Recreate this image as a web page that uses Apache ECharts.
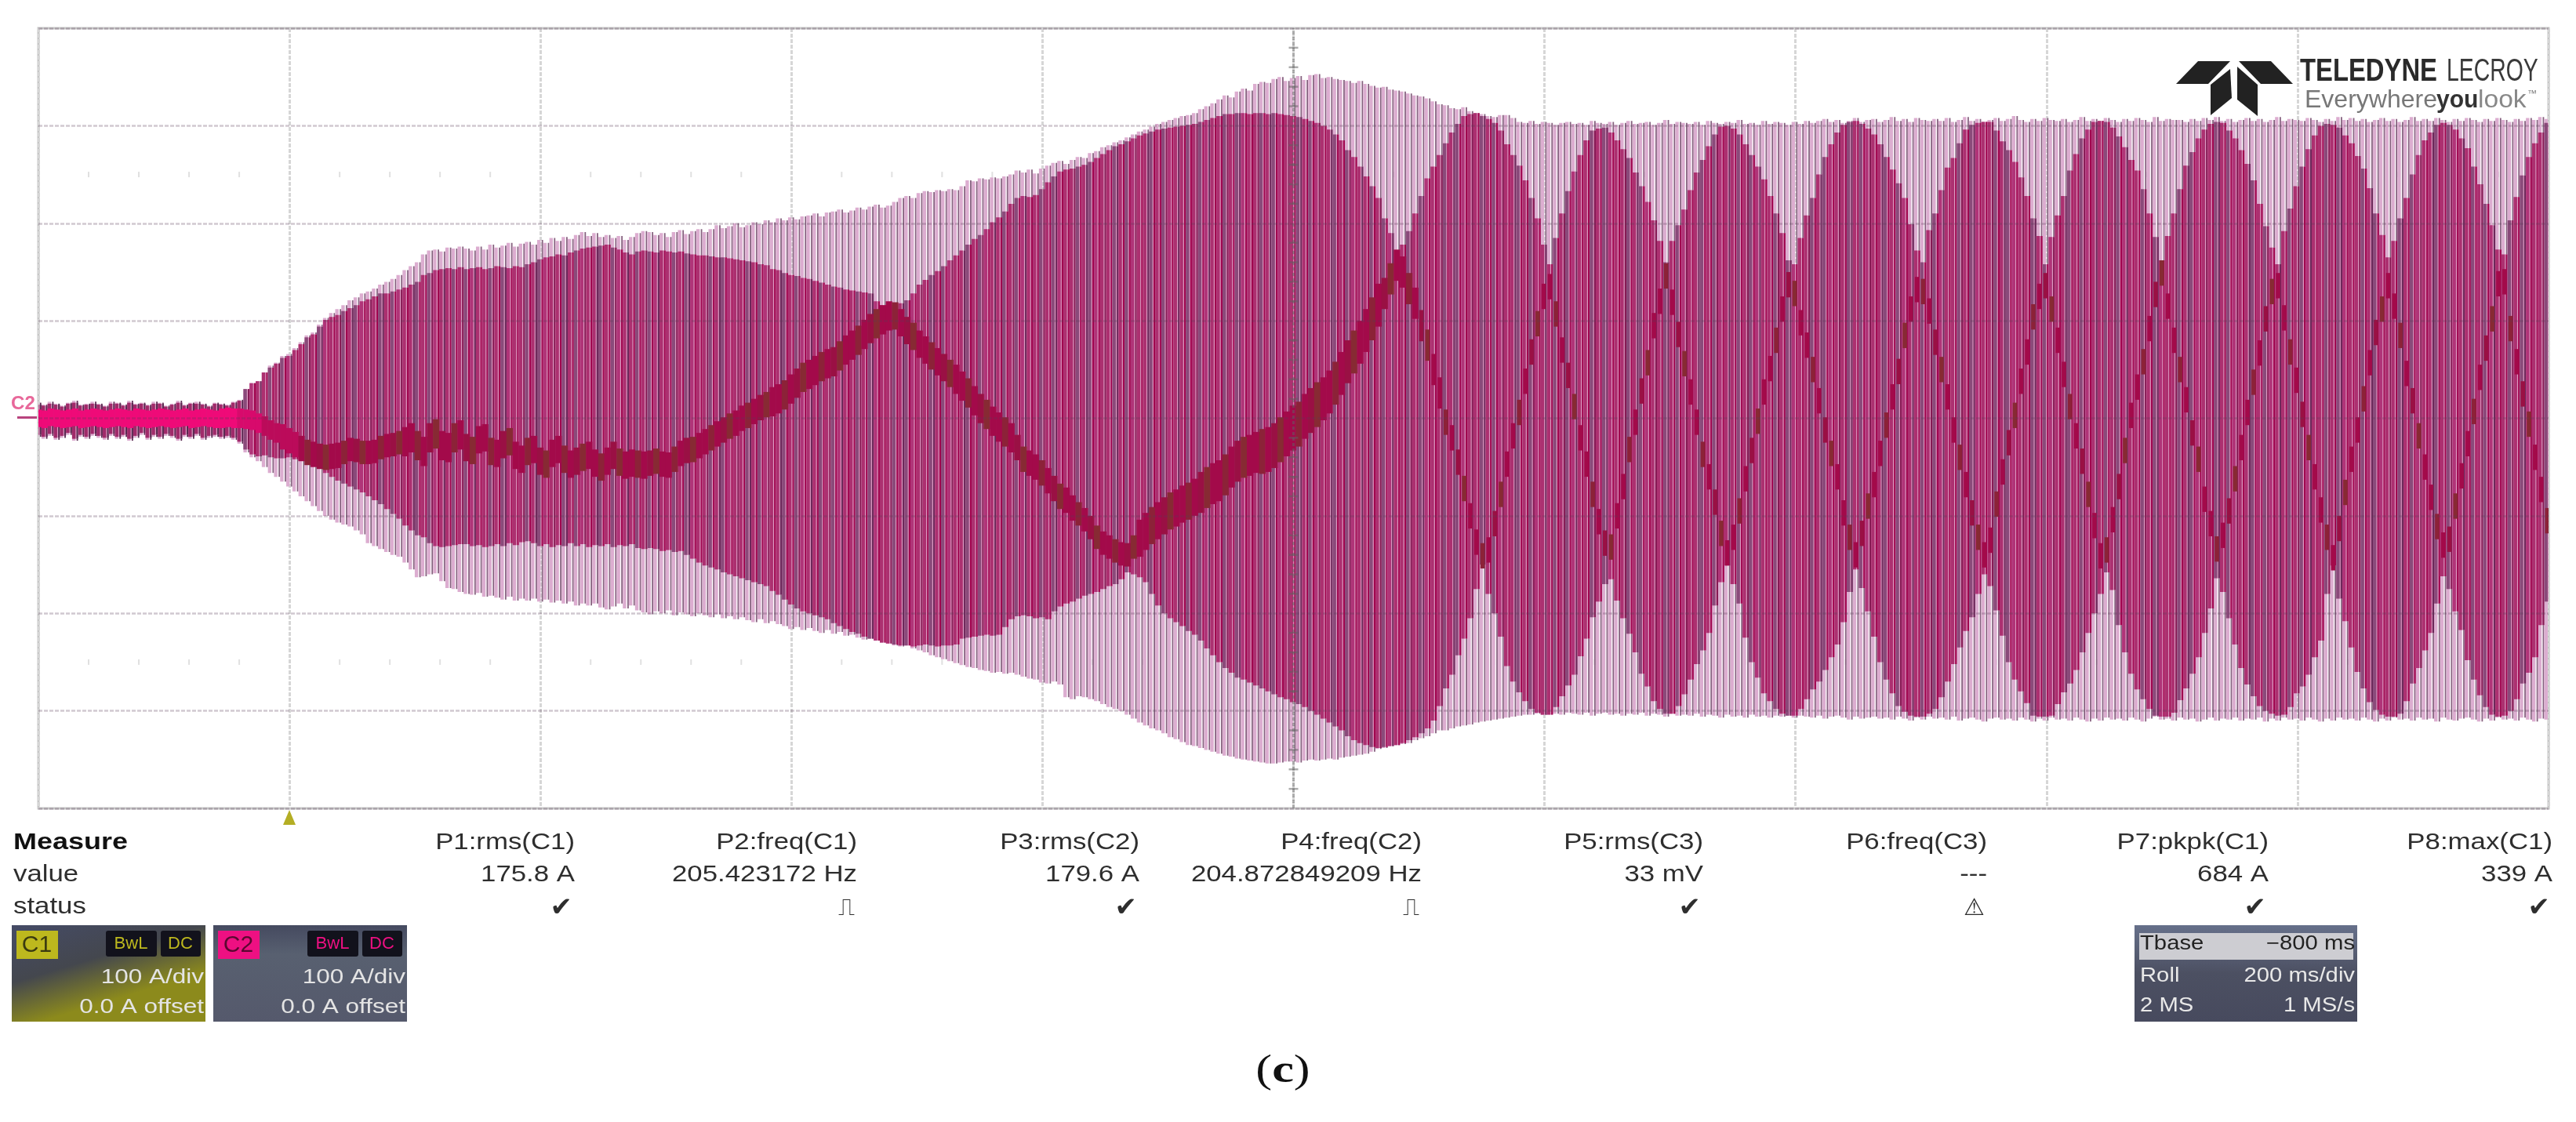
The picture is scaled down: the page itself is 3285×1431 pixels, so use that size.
<!DOCTYPE html>
<html><head><meta charset="utf-8">
<style>html,body{margin:0;padding:0;background:#fff}#c{width:3285px;height:1431px;filter:blur(.7px)}</style>
<script src="https://cdn.jsdelivr.net/npm/echarts@6/dist/echarts.min.js"></script>
</head><body><div id="c"></div>
<script>
// Per-cycle envelope readings in amps (one entry per mains cycle, ~205 Hz, 100 A/div, 200 ms/div)
const outerHigh = [16,14,17,15,13,16,18,14,15,17,
15,13,17,16,14,18,15,16,14,17,
16,13,15,18,14,16,17,15,13,16,
15,14,17,19,30,36,38,47,54,57,
64,66,72,78,85,88,96,103,108,112,
116,121,124,128,130,133,137,140,143,147,
152,156,160,168,172,173,171,175,174,176,
174,172,176,173,178,175,177,180,176,179,
181,178,183,180,185,182,186,184,188,191,
187,190,186,188,185,187,183,186,190,192,
191,188,190,186,191,193,189,192,194,191,
194,198,195,197,200,196,198,201,199,203,
201,205,203,206,204,207,208,210,207,211,
212,214,211,213,216,214,217,219,216,218,
222,226,228,226,231,233,232,234,233,235,
234,238,244,243,246,245,247,246,248,250,
254,252,255,251,256,259,262,264,261,265,
268,267,272,274,278,280,283,285,288,291,
294,296,299,302,304,306,308,310,311,313,
317,320,323,327,331,329,335,338,336,343,
345,344,348,350,346,349,351,347,352,353,
349,350,348,347,346,344,346,343,341,339,
340,337,336,335,333,331,330,328,325,322,
321,318,317,319,315,313,312,310,309,311,
311,308,304,303,305,302,304,303,301,303,
304,302,303,301,305,303,302,304,301,303,
305,302,303,304,301,303,306,302,304,303,
302,304,301,305,303,302,304,303,306,302,
303,301,305,302,304,303,301,304,302,305,
303,305,307,304,306,303,305,308,304,306,
307,304,306,309,305,307,304,308,306,305,
307,305,308,304,306,309,305,307,304,306,
308,305,307,310,306,304,307,305,308,306,
305,307,304,306,309,305,307,305,308,306,
304,307,305,308,306,304,309,305,307,306,
306,304,307,305,308,306,309,305,307,304,
306,308,305,307,304,306,309,305,307,306,
305,308,306,304,307,305,309,306,308,305,
307,304,306,308,305,307,304,306,309,305,
307,305,308,306,304,307,305,308,306,304,
307,305,308,306,304,307,305,308,306,309,307];
const outerLow = [-19,-21,-18,-22,-20,-17,-23,-19,-21,-18,
-20,-22,-18,-21,-19,-23,-20,-17,-22,-19,
-21,-18,-20,-23,-19,-21,-18,-22,-20,-19,
-21,-20,-22,-26,-35,-40,-44,-50,-56,-60,
-65,-70,-75,-80,-85,-90,-95,-100,-104,-107,
-109,-111,-115,-119,-128,-131,-134,-137,-140,-142,
-148,-155,-163,-162,-160,-159,-167,-174,-175,-178,
-180,-181,-179,-183,-182,-184,-186,-183,-187,-185,
-187,-185,-188,-186,-189,-187,-190,-188,-192,-190,
-192,-190,-194,-196,-193,-190,-195,-192,-197,-199,
-201,-198,-200,-197,-202,-199,-201,-203,-200,-202,
-204,-201,-205,-203,-206,-204,-207,-209,-206,-210,
-208,-211,-213,-216,-214,-217,-215,-218,-220,-217,
-221,-219,-223,-222,-225,-227,-226,-228,-230,-229,
-233,-234,-232,-236,-238,-240,-243,-245,-247,-249,
-251,-253,-255,-256,-258,-259,-261,-260,-262,-261,
-263,-265,-267,-268,-271,-272,-270,-273,-286,-288,
-285,-286,-288,-290,-293,-296,-298,-300,-304,-308,
-312,-315,-318,-320,-323,-327,-329,-332,-335,-336,
-338,-340,-342,-344,-346,-347,-349,-350,-351,-352,
-353,-354,-354,-353,-352,-352,-353,-351,-350,-351,
-350,-349,-350,-348,-347,-346,-345,-344,-342,-339,
-338,-336,-335,-334,-333,-330,-328,-326,-323,-320,
-320,-318,-316,-315,-314,-312,-311,-310,-309,-308,
-307,-306,-305,-304,-304,-303,-304,-302,-303,-304,
-302,-303,-304,-302,-305,-303,-302,-304,-303,-305,
-303,-304,-302,-305,-303,-304,-306,-303,-305,-304,
-305,-303,-306,-304,-305,-307,-304,-306,-305,-307,
-304,-306,-305,-307,-305,-306,-304,-307,-305,-306,
-307,-305,-308,-306,-305,-307,-309,-306,-308,-307,
-306,-308,-307,-309,-306,-308,-310,-307,-309,-306,
-308,-307,-309,-306,-310,-308,-307,-309,-311,-308,
-307,-309,-308,-310,-307,-309,-311,-308,-310,-307,
-309,-308,-310,-307,-309,-311,-308,-310,-307,-309,
-308,-310,-307,-309,-311,-308,-306,-309,-308,-310,
-307,-309,-308,-311,-309,-307,-310,-308,-309,-307,
-310,-308,-309,-307,-311,-308,-310,-307,-309,-308,
-310,-307,-309,-311,-308,-310,-307,-309,-308,-310,
-307,-309,-311,-308,-310,-307,-309,-308,-310,-307,
-309,-308,-311,-307,-309,-310,-308,-307,-309,-311,
-308,-310,-307,-309,-308,-310,-307,-309,-311,-308,-309];
const innerHigh = [14,13,15,14,12,15,16,13,14,15,
14,12,15,15,13,16,14,15,13,15,
15,12,14,16,13,15,15,14,12,15,
14,13,16,18,30,36,38,47,52,56,
62,64,70,76,83,86,94,101,104,106,
110,113,116,120,122,125,128,128,130,132,
134,137,140,147,149,152,153,154,153,155,
153,154,155,153,154,156,155,154,156,155,
158,160,163,165,166,168,167,170,172,174,
175,176,177,178,175,173,170,168,171,172,
171,170,172,171,170,171,169,168,167,167,
166,165,165,164,163,162,161,160,158,157,
153,152,149,147,146,144,143,141,139,137,
135,134,132,131,130,129,128,120,116,115,
116,118,121,128,137,142,147,151,156,162,
167,172,178,184,188,194,201,206,212,220,
226,228,227,229,235,242,248,253,255,256,
258,260,263,267,271,275,279,281,284,287,
290,292,294,296,297,298,299,300,301,302,
304,306,308,310,312,312,313,313,312,313,
313,312,313,312,311,310,309,307,305,303,
300,296,291,285,275,268,258,248,238,226,
205,190,172,178,192,210,228,246,258,270,
282,293,302,310,312,313,310,307,303,295,
281,270,259,244,226,205,178,158,185,210,
233,253,270,285,295,297,298,293,285,276,
267,252,238,222,203,182,160,182,198,214,
234,252,265,279,291,299,300,297,291,281,
270,258,245,228,210,190,162,158,185,208,
226,250,268,281,293,301,304,305,302,297,
291,281,268,255,241,226,199,172,160,193,
210,234,257,267,282,296,301,303,304,304,
295,284,275,263,247,228,205,187,158,186,
208,228,254,271,287,296,304,305,304,298,
289,278,265,254,235,210,186,162,187,210,
235,259,273,287,296,302,304,303,295,287,
275,261,244,220,197,175,158,192,215,238,
258,276,290,300,302,301,298,290,282,269,
256,236,210,188,165,182,205,226,250,270,
285,293,301,303,301,296,287,277,258,240,
220,198,173,168,203,227,249,268,282,293,303];
const innerLow = [-17,-19,-16,-20,-18,-15,-21,-17,-19,-16,
-18,-20,-16,-19,-17,-21,-18,-15,-20,-17,
-19,-16,-18,-21,-17,-19,-16,-20,-18,-17,
-19,-18,-20,-24,-32,-37,-39,-38,-40,-41,
-41,-40,-42,-43,-44,-46,-50,-56,-60,-64,
-67,-70,-73,-76,-80,-84,-88,-93,-98,-103,
-110,-115,-120,-122,-128,-131,-132,-131,-130,-129,
-129,-131,-130,-132,-131,-129,-131,-128,-130,-127,
-126,-128,-131,-129,-132,-130,-131,-128,-131,-129,
-132,-130,-131,-129,-132,-130,-131,-129,-133,-134,
-133,-134,-136,-135,-137,-136,-140,-144,-148,-151,
-153,-155,-158,-160,-162,-164,-166,-168,-170,-172,
-177,-181,-186,-191,-195,-198,-200,-202,-204,-206,
-210,-213,-216,-219,-221,-224,-226,-228,-230,-231,
-232,-233,-233,-234,-233,-232,-233,-234,-233,-233,
-232,-226,-225,-224,-223,-222,-223,-222,-214,-206,
-203,-202,-203,-205,-204,-206,-198,-193,-190,-188,
-185,-182,-180,-178,-175,-172,-170,-165,-158,-160,
-163,-168,-180,-192,-200,-205,-209,-213,-218,-222,
-228,-236,-243,-250,-256,-261,-266,-268,-271,-274,
-277,-280,-283,-286,-288,-291,-293,-296,-300,-304,
-308,-312,-316,-320,-326,-330,-333,-335,-337,-338,
-337,-336,-335,-333,-330,-327,-323,-318,-310,-295,
-277,-263,-243,-226,-205,-175,-150,-180,-200,-224,
-254,-270,-281,-290,-298,-302,-304,-304,-296,-285,
-274,-263,-244,-226,-204,-188,-170,-165,-187,-205,
-221,-240,-262,-275,-290,-298,-303,-303,-295,-283,
-268,-252,-238,-220,-192,-168,-151,-170,-190,-225,
-250,-266,-282,-290,-298,-303,-305,-305,-298,-288,
-278,-270,-258,-245,-232,-209,-178,-155,-174,-198,
-224,-250,-268,-282,-295,-301,-305,-306,-306,-303,
-298,-286,-270,-252,-235,-218,-204,-180,-160,-172,
-197,-223,-250,-268,-280,-292,-305,-306,-306,-305,
-293,-281,-272,-258,-240,-220,-200,-180,-158,-176,
-212,-240,-262,-278,-288,-298,-305,-306,-306,-302,
-289,-277,-262,-245,-220,-195,-164,-178,-205,-232,
-256,-273,-285,-295,-300,-303,-305,-304,-296,-282,
-275,-263,-245,-228,-180,-151,-185,-208,-235,-260,
-277,-291,-299,-304,-306,-306,-303,-290,-272,-256,
-238,-220,-190,-162,-175,-198,-217,-248,-268,-284,
-296,-304,-306,-305,-300,-288,-272,-261,-245,-212,-188];
const traceMid = [0,-1,1,0,-1,0,1,-1,0,1,
0,-1,0,1,0,-1,1,0,-1,0,
1,0,-1,0,1,-1,0,1,0,-1,
0,1,0,0,-1,-2,-5,-8,-12,-15,
-19,-23,-27,-31,-35,-37,-39,-40,-39,-38,
-35,-32,-33,-35,-35,-34,-30,-28,-27,-25,
-24,-20,-28,-34,-20,-16,-28,-30,-20,-17,
-30,-33,-22,-20,-34,-36,-27,-24,-38,-42,
-34,-32,-44,-47,-36,-32,-42,-47,-44,-40,
-38,-46,-50,-44,-38,-45,-48,-46,-47,-48,
-46,-44,-47,-48,-42,-36,-33,-32,-28,-24,
-20,-16,-12,-8,-5,0,3,7,11,14,
17,20,24,30,36,42,45,49,53,56,
58,64,70,75,80,86,92,97,101,105,
105,98,90,84,76,70,64,58,52,46,
40,33,26,18,10,4,-3,-9,-14,-20,
-30,-42,-46,-50,-56,-64,-72,-80,-84,-92,
-98,-104,-112,-122,-128,-132,-136,-139,-140,-132,
-123,-116,-110,-105,-100,-95,-92,-88,-85,-81,
-76,-71,-67,-64,-58,-50,-44,-40,-38,-35,
-34,-32,-28,-22,-16,-10,-6,2,8,14,
20,27,36,46,58,68,78,90,102,116,
128,143,157,150,133,118,95,75,50,26,
-4,-20,-45,-72,-100,-127,-141,-135,-108,-78,
-47,-18,6,38,68,97,125,135,107,70,
44,12,-20,-47,-78,-106,-128,-132,-100,-70,
-32,-4,28,57,95,120,146,119,86,56,
27,-4,-37,-60,-86,-118,-138,-122,-95,-62,
-33,-3,27,51,80,112,137,128,98,75,
50,18,-12,-36,-60,-97,-122,-140,-118,-90,
-68,-36,-7,22,48,85,112,132,130,110,
78,50,22,-12,-40,-68,-97,-122,-140,-125,
-88,-55,-25,3,38,68,104,125,136,112,
80,45,12,-18,-44,-78,-110,-141,-135,-104,
-70,-33,3,32,58,92,127,149,115,80,
50,19,-15,-42,-83,-108,-134,-120,-95,-62,
-30,6,37,67,102,130,136,103,68,39,
4,-30,-60,-94,-122,-143,-113,-76,-42,-12,
20,57,88,112,136,115,85,46,18,-18,
-50,-81,-111,-130,-124,-90,-59,-26,7,42,
72,102,138,140,92,58,25,-6,-40,-73,-105];
const traceBandEvery10 = [9,9,9,10,13,12,15,14,14,14,13,13,15,15,14,15,13,12,19,21,23,22,16,13,13,13,13,13,13,13,13,13,13,13,13,13,13,13,13,13,13,13];
const cycleHz = 205.1;
const timeTicksMs = [40,80,120,160,240,280,320,360,440,480,520,560,640,680,720,760,840,880,920,960,1040,1080,1120,1160,1240,1280,1320,1360,1440,1480,1520,1560,1640,1680,1720,1760,1840,1880,1920,1960];
const centerTicksA = [-380,-360,-340,-320,-280,-260,-240,-220,-180,-160,-140,-120,-80,-60,-40,-20,20,40,60,80,120,140,160,180,220,240,260,280,320,340,360,380];
const measureHeads = ['P1:rms(C1)','P2:freq(C1)','P3:rms(C2)','P4:freq(C2)','P5:rms(C3)','P6:freq(C3)','P7:pkpk(C1)','P8:max(C1)'];
const measureVals = ['175.8 A','205.423172 Hz','179.6 A','204.872849209 Hz','33 mV','---','684 A','339 A'];
const measureStatus = ['\u2714','\u238D','\u2714','\u238D','\u2714','\u26A0','\u2714','\u2714'];
const measureRight = [733,1093,1453,1813,2172,2534,2893,3255];

[outerHigh,outerLow,innerHigh,innerLow,traceMid].forEach((a,k)=>{ if(a.length!==411) throw new Error('len '+k+' '+a.length); });

const rows = outerHigh.map((v,i)=>[i*1000/cycleHz, v, outerLow[i], innerHigh[i], innerLow[i], traceMid[i]]);

const PITCH = 7.8;
const mainCols = ['#ac3070','#ac3070','#8a4a7a','#ac3070','#8a4a7a','#b03478'];
const lineCols = ['#a0044e','#6c285a','#a0044e','#a0044e','#861a54'];
const traceCols = ['#a30a4a','#a30a4a','#8c2238','#a30a4a','#9a1044','#872a33'];
const rect=(x,y,w,h,fill)=>({type:'rect',shape:{x,y,width:w,height:h},style:{fill},silent:true});

function outerItem(p,api){
  const x=api.coord([api.value(0),0])[0]-PITCH/2;
  const a=api.coord([0,api.value(1)])[1], b=api.coord([0,api.value(2)])[1];
  const line = p.dataIndex<34 ? '#5a2a52' : '#86617f';
  return {type:'group',children:[rect(x,a,4.4,b-a,'#dcadd0'),rect(x+5.8,a,1.8,b-a,line)]};
}
function innerItem(p,api){
  const x=api.coord([api.value(0),0])[0]-PITCH/2;
  const a=api.coord([0,api.value(3)])[1], b=api.coord([0,api.value(4)])[1];
  const i=p.dataIndex;
  const main = i<34 ? '#a02a6a' : mainCols[i%mainCols.length];
  const line = i<34 ? '#5a2a52' : lineCols[i%lineCols.length];
  return {type:'group',children:[rect(x,a,PITCH,b-a,'#dc9cc2'),rect(x,a,4.4,b-a,main),rect(x+5.6,a,2.2,b-a,line)]};
}
function traceItem(p,api){
  const i=p.dataIndex;
  const t=api.value(5), band=traceBandEvery10[Math.floor(i/10)];
  const xc=api.coord([api.value(0),0])[0];
  const a=api.coord([0,t+band])[1], b=api.coord([0,t-band])[1];
  const w = i<226 ? PITCH+.4 : 5.6;
  const col = i<33 ? '#ef0a78' : i<37 ? '#d80a6c' : i<43 ? '#bb0b5a' : traceCols[i%traceCols.length];
  return rect(xc-w/2,a,w,b-a,col);
}
const customBase={type:'custom',data:rows,animation:false,silent:true,progressive:0,clip:true,
  encode:{x:0,y:[1,2]},dimensions:['t','oh','ol','ih','il','m']};

const FONT='"Liberation Sans",Arial,sans-serif';
const txt=(x,y,text,o={})=>({type:'text',x,y,scaleX:o.sx||1.2,z:o.z||50,silent:true,style:{
  text,fill:o.fill||'#2e2e2e',font:(o.bold?'bold ':'')+(o.size||29)+'px '+(o.family||FONT),
  textAlign:o.align||'right',textVerticalAlign:'middle'}});
const box=(x,y,w,h,fill,r)=>({type:'rect',silent:true,z:40,shape:{x,y,width:w,height:h,r:r||0},style:{fill}});
const poly=(pts,fill,z)=>({type:'polygon',silent:true,z:z||40,shape:{points:pts},style:{fill}});
const grad=(stops,x2,y2)=>({type:'linear',x:0,y:0,x2:x2,y2:y2,colorStops:stops});

const graphics=[];
// measure table
graphics.push(txt(17,1075,'Measure',{align:'left',bold:true,sx:1.24,fill:'#111'}));
graphics.push(txt(17,1116,'value',{align:'left'}));
graphics.push(txt(17,1157,'status',{align:'left'}));
measureHeads.forEach((h,i)=>{
  const s=measureStatus[i];
  graphics.push(txt(measureRight[i],1075,h));
  graphics.push(txt(measureRight[i],1116,measureVals[i]));
  graphics.push(txt(measureRight[i]-3,1159,s,{family:'"DejaVu Sans"',size:s==='\u2714'?34:30,sx:1,fill:'#2e2e2e'}));
});
// channel badges
function badge(x,col,name,tagFill,bg){
  graphics.push(box(x,1180,247,123,bg));
  graphics.push(box(x+6,1187,53,36,col));
  graphics.push(txt(x+32,1206,name,{align:'center',size:30,sx:1,fill:tagFill}));
  graphics.push(box(x+120,1187,65,33,'#12121c',3));
  graphics.push(box(x+190,1187,51,33,'#12121c',3));
  graphics.push(txt(x+152,1204,'BwL',{align:'center',size:22,sx:1,fill:col}));
  graphics.push(txt(x+215,1204,'DC',{align:'center',size:22,sx:1,fill:col}));
  graphics.push(txt(x+245,1247,'100 A/div',{fill:'#e4e4e4',size:25,sx:1.26}));
  graphics.push(txt(x+245,1285,'0.0 A offset',{fill:'#e4e4e4',size:25,sx:1.26}));
}
badge(15,'#bdb81e','C1','#3a3a10',grad([{offset:0,color:'#454b66'},{offset:.55,color:'#44474e'},{offset:1,color:'#8c8a1c'}],.15,1));
badge(272,'#ee1082','C2','#5a0830',grad([{offset:0,color:'#454a60'},{offset:.3,color:'#586070'},{offset:1,color:'#55596c'}],0,1));
// timebase
graphics.push(box(2722,1180,284,123,grad([{offset:0,color:'#66708a'},{offset:.5,color:'#4c5062'},{offset:1,color:'#474a5e'}],0,1)));
graphics.push(box(2728,1190,273,34,'#cdcdd2'));
graphics.push(txt(2729,1204,'Tbase',{align:'left',size:25,sx:1.17,fill:'#222'}));
graphics.push(txt(3003,1204,'\u2212800 ms',{size:25,sx:1.17,fill:'#222'}));
graphics.push(txt(2729,1245,'Roll',{align:'left',size:25,sx:1.17,fill:'#e8e8e8'}));
graphics.push(txt(3003,1245,'200 ms/div',{size:25,sx:1.17,fill:'#e8e8e8'}));
graphics.push(txt(2729,1283,'2 MS',{align:'left',size:25,sx:1.17,fill:'#e8e8e8'}));
graphics.push(txt(3003,1283,'1 MS/s',{size:25,sx:1.17,fill:'#e8e8e8'}));
// trigger marker, channel tag
graphics.push(poly([[369,1033],[361,1052],[377,1052]],'#b4ae24'));
graphics.push(txt(14,516,'C2',{align:'left',size:23,sx:1.05,bold:true,fill:'#e8689a'}));
graphics.push(box(22,531,25,3,'#b8447e'));
// logo
graphics.push(poly([[2775,107],[2803,78],[2844,78],[2816,107]],'#222',60));
graphics.push(poly([[2855,78],[2896,78],[2924,107],[2883,107]],'#222',60));
graphics.push(poly([[2819,108],[2844,88],[2846,125],[2819,147]],'#222',60));
graphics.push(poly([[2853,85],[2879,108],[2879,148],[2853,127]],'#222',60));
graphics.push(txt(2933,92,'TELEDYNE',{align:'left',size:40,sx:.82,bold:true,fill:'#2a2a2a',z:60}));
graphics.push(txt(3120,92,'LECROY',{align:'left',size:40,sx:.71,fill:'#3a3a3a',z:60}));
graphics.push(txt(2939,128,'Everywhere',{align:'left',size:32,sx:1,fill:'#777',z:60}));
graphics.push(txt(3107,128,'you',{align:'left',size:32,sx:.94,bold:true,fill:'#333',z:60}));
graphics.push(txt(3160,128,'look',{align:'left',size:32,sx:1.05,fill:'#888',z:60}));
graphics.push(txt(3223,120,'\u2122',{align:'left',size:12,sx:1,fill:'#777',z:60}));
// caption
graphics.push({type:'text',x:1636,y:1367,scaleX:1.25,z:50,silent:true,style:{
  text:'{a|(}{b|c}{a|)}',textAlign:'center',textVerticalAlign:'middle',
  rich:{a:{font:'50px "Liberation Serif",serif',fill:'#111'},b:{font:'bold 50px "Liberation Serif",serif',fill:'#111'}}}});

const chart=echarts.init(document.getElementById('c'),null,{renderer:'canvas',width:3285,height:1431});
chart.setOption({
  animation:false,backgroundColor:'#fff',
  grid:{left:49,top:36,width:3201,height:995,show:true,backgroundColor:'#fff',borderColor:'#c6c6c6',borderWidth:3},
  xAxis:{type:'value',min:0,max:2000,interval:200,z:0,axisLabel:{show:false},axisTick:{show:false},axisLine:{show:false},
    splitLine:{show:true,lineStyle:{color:'#d6d6d6',width:3,type:[5,2]}}},
  yAxis:{type:'value',min:-400,max:400,interval:100,z:5,axisLabel:{show:false},axisTick:{show:false},axisLine:{show:false},
    splitLine:{show:true,lineStyle:{color:'rgba(90,60,85,.28)',width:2.5,type:[5,2]}}},
  series:[
    Object.assign({},customBase,{name:'C1 outer',renderItem:outerItem,z:2}),
    Object.assign({},customBase,{name:'C2 inner',renderItem:innerItem,z:3}),
    Object.assign({},customBase,{name:'trace',renderItem:traceItem,z:4}),
    {type:'line',z:6,silent:true,symbol:'none',animation:false,data:[[1000,-400],[1000,400]],lineStyle:{color:'rgba(95,95,95,.5)',width:3,type:[4,3]}},
    {type:'scatter',z:6,silent:true,animation:false,symbol:'rect',symbolSize:[12,2.5],itemStyle:{color:'rgba(95,95,95,.65)'},data:centerTicksA.map(a=>[1000,a])},
    {type:'scatter',z:1,silent:true,animation:false,symbol:'rect',symbolSize:[2,7],itemStyle:{color:'#d8d8d8'},data:timeTicksMs.map(t=>[t,250])},
    {type:'scatter',z:1,silent:true,animation:false,symbol:'rect',symbolSize:[2,7],itemStyle:{color:'#d8d8d8'},data:timeTicksMs.map(t=>[t,-250])}
  ],
  graphic:{elements:graphics}
});
</script></body></html>
